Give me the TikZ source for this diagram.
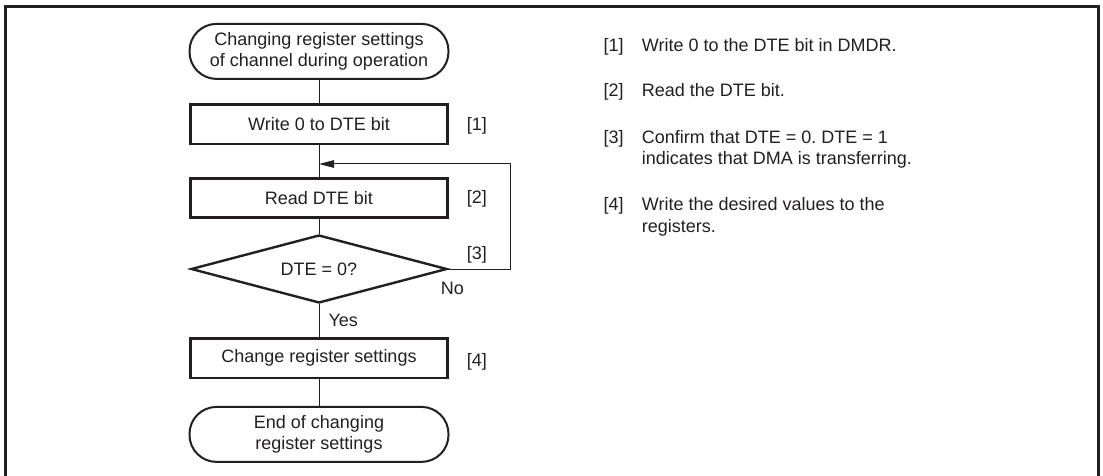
\documentclass[tikz,border=0pt]{standalone}
\usepackage{fontspec}
\setmainfont{Liberation Sans}
\usetikzlibrary{shapes.geometric,arrows.meta}
\definecolor{ink}{RGB}{35,31,32}
\frenchspacing
\begin{document}
\begin{tikzpicture}[x=1pt,y=-1pt,
  every node/.style={font=\fontsize{18}{21.5}\selectfont\frenchspacing, text=ink, inner sep=0pt},
  procbox/.style={draw=ink, line width=2.6pt, minimum width=257pt, minimum height=39.5pt},
  termbox/.style={draw=ink, line width=2pt, rounded corners=27pt, minimum width=259pt, minimum height=55pt, align=center},
  decbox/.style={draw=ink, shape=diamond, line width=2.4pt, minimum width=256pt, minimum height=68pt, aspect=3.7},
  conn/.style={draw=ink, line width=1pt},
  lbl/.style={anchor=west},
  note/.style={anchor=base west, align=left},
]
\useasboundingbox (0,0) rectangle (1103,476);
\draw[ink, line width=2.6pt] (5.3,476) -- (5.3,6.3) -- (1098.7,6.3) -- (1098.7,476);

\node[termbox] (start) at (319,51.4) {Changing register settings\\of channel during operation};
\node[procbox] (w) at (319,124.2) {Write 0 to DTE bit};
\node[procbox] (r) at (319,198) {Read DTE bit};
\node[decbox] (d) at (319,269) {DTE = 0?};
\node[procbox] (c) at (319,358.3) {Change register settings};
\node[termbox] (e) at (319,434.4) {End of changing\\register settings};

\coordinate (merge) at (319,164);
\coordinate (loopc) at (510.7,164);
\draw[conn] (start) -- (w);
\draw[conn] (w) -- (r);
\draw[conn] (r) -- (d);
\draw[conn] (d) -- (c);
\draw[conn] (c) -- (e);
\draw[conn, -{Triangle[length=15pt,width=7.5pt]}] (d.east) -| (loopc) -- (merge);

\node[lbl] (l1) at (466.7,126) {[1]};
\node[lbl] (l2) at (466.7,199) {[2]};
\node[lbl] (l3) at (466.7,255) {[3]};
\node[lbl] (l4) at (466.7,361.7) {[4]};
\node[lbl] (no) at (440.7,288) {No};
\node[lbl] (yes) at (328.3,320) {Yes};

\node[note] (n1) at (603.3,51.5) {[1]};
\node[note] (t1) at (641.7,51.5) {Write 0 to the DTE bit in DMDR.};
\node[note] (n2) at (603.3,96.5) {[2]};
\node[note] (t2) at (641.7,96.5) {Read the DTE bit.};
\node[note] (n3) at (603.3,143.2) {[3]};
\node[note] (t3) at (641.7,164.7) {Confirm that DTE = 0. DTE = 1\\indicates that DMA is transferring.};
\node[note] (n4) at (603.3,210.8) {[4]};
\node[note] (t4) at (641.7,232.3) {Write the desired values to the\\registers.};
\end{tikzpicture}
\end{document}
